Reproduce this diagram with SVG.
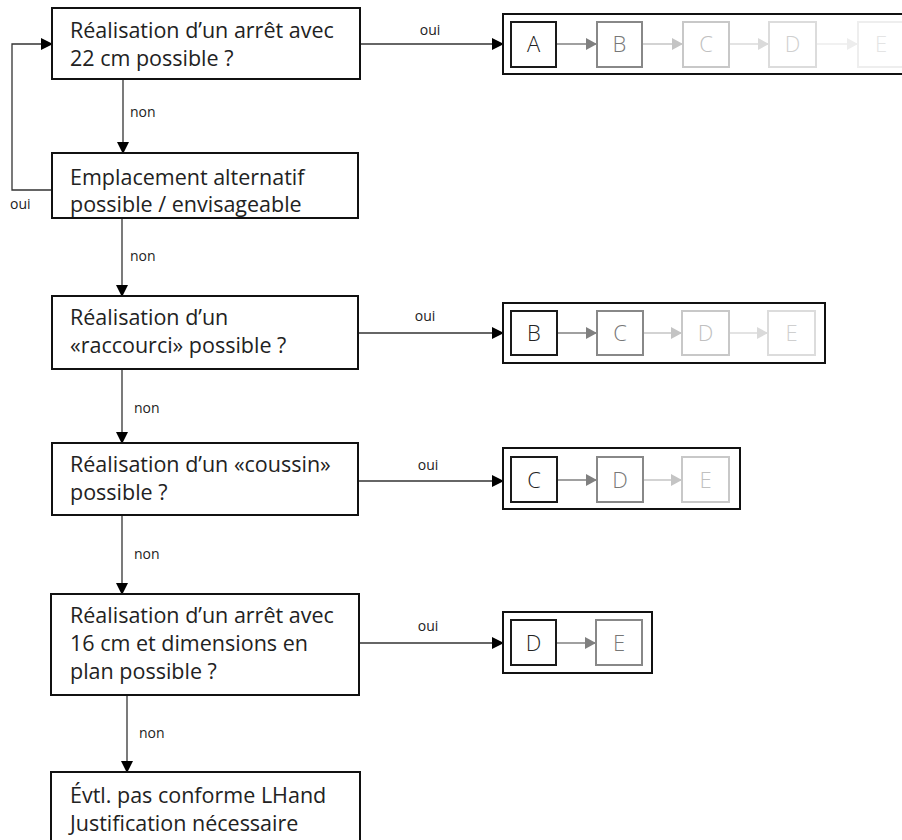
<svg xmlns="http://www.w3.org/2000/svg" width="902" height="840" viewBox="0 0 902 840">
<defs>
<style>
.box{fill:#fff;stroke:#111;stroke-width:2}
.t{font-family:"Open Sans","Noto Sans",sans-serif;font-size:21.5px;fill:#222}
.lbl{font-family:"Open Sans","Noto Sans",sans-serif;font-size:14px;fill:#222}
.ln{fill:none;stroke:#333;stroke-width:1.3}
.cont{fill:#fff;stroke:#111;stroke-width:2}
.s{font-family:"Open Sans","Noto Sans",sans-serif;font-size:22px;font-weight:300;text-anchor:middle}
.c0{fill:#fff;stroke:#1a1a1a;stroke-width:2}
.c1{fill:#fff;stroke:#888;stroke-width:2}
.c2{fill:#fff;stroke:#c8c8c8;stroke-width:2}
.c3{fill:#fff;stroke:#dcdcdc;stroke-width:2}
.c4{fill:#fff;stroke:#eeeeee;stroke-width:2}
.f0{fill:#222}.f1{fill:#777}.f2{fill:#c0c0c0}.f3{fill:#cfcfcf}.f4{fill:#e4e4e4}
.a1{stroke:#808080;stroke-width:1.3}
.a2{stroke:#c4c4c4;stroke-width:1.3}
.a3{stroke:#dadada;stroke-width:1.3}
.a4{stroke:#ededed;stroke-width:1.3}
</style>
<marker id="ah" markerWidth="12" markerHeight="12" refX="11" refY="6" orient="auto" markerUnits="userSpaceOnUse"><path d="M0,0 L12,6 L0,12 Z" fill="#000"/></marker>
<marker id="m1" markerWidth="12" markerHeight="12" refX="11" refY="6" orient="auto" markerUnits="userSpaceOnUse"><path d="M0,0 L11,6 L0,12 Z" fill="#808080"/></marker>
<marker id="m2" markerWidth="12" markerHeight="12" refX="11" refY="6" orient="auto" markerUnits="userSpaceOnUse"><path d="M0,0 L11,6 L0,12 Z" fill="#c4c4c4"/></marker>
<marker id="m3" markerWidth="12" markerHeight="12" refX="11" refY="6" orient="auto" markerUnits="userSpaceOnUse"><path d="M0,0 L11,6 L0,12 Z" fill="#dadada"/></marker>
<marker id="m4" markerWidth="12" markerHeight="12" refX="11" refY="6" orient="auto" markerUnits="userSpaceOnUse"><path d="M0,0 L11,6 L0,12 Z" fill="#ededed"/></marker>
</defs>
<rect width="902" height="840" fill="#fff"/>

<g id="connectors">
<path class="ln" d="M123,79 V153" marker-end="url(#ah)"/>
<text class="lbl" x="130" y="117">non</text>
<path class="ln" d="M122,218 V296" marker-end="url(#ah)"/>
<text class="lbl" x="130" y="261">non</text>
<path class="ln" d="M122,369 V443" marker-end="url(#ah)"/>
<text class="lbl" x="134" y="413">non</text>
<path class="ln" d="M122,515 V594" marker-end="url(#ah)"/>
<text class="lbl" x="134" y="559">non</text>
<path class="ln" d="M127,695 V772" marker-end="url(#ah)"/>
<text class="lbl" x="139" y="738">non</text>
<path class="ln" d="M52,190 H12 V44 H52" marker-end="url(#ah)"/>
<text class="lbl" x="10" y="209">oui</text>
<path class="ln" d="M360,44 H503" marker-end="url(#ah)"/>
<text class="lbl" x="430" y="35" text-anchor="middle">oui</text>
<path class="ln" d="M358,333 H503" marker-end="url(#ah)"/>
<text class="lbl" x="425" y="321" text-anchor="middle">oui</text>
<path class="ln" d="M358,481 H503" marker-end="url(#ah)"/>
<text class="lbl" x="428" y="470" text-anchor="middle">oui</text>
<path class="ln" d="M359,643 H503" marker-end="url(#ah)"/>
<text class="lbl" x="428" y="631" text-anchor="middle">oui</text>
</g>

<g id="q1">
<rect class="box" x="52" y="8" width="308" height="71"/>
<text class="t" x="70" y="38">Réalisation d’un arrêt avec</text>
<text class="t" x="70" y="66">22 cm possible ?</text>
</g>
<g id="q2">
<rect class="box" x="52" y="153" width="306" height="65"/>
<text class="t" x="70" y="185">Emplacement alternatif</text>
<text class="t" x="70" y="212">possible / envisageable</text>
</g>
<g id="q3">
<rect class="box" x="52" y="296" width="306" height="73"/>
<text class="t" x="70" y="325">Réalisation d’un</text>
<text class="t" x="70" y="353">«raccourci» possible ?</text>
</g>
<g id="q4">
<rect class="box" x="52" y="443" width="306" height="72"/>
<text class="t" x="70" y="472">Réalisation d’un «coussin»</text>
<text class="t" x="70" y="500">possible ?</text>
</g>
<g id="q5">
<rect class="box" x="51" y="594" width="308" height="101"/>
<text class="t" x="70" y="623">Réalisation d’un arrêt avec</text>
<text class="t" x="70" y="651">16 cm et dimensions en</text>
<text class="t" x="70" y="679">plan possible ?</text>
</g>
<g id="q6">
<rect class="box" x="51" y="772" width="309" height="80"/>
<text class="t" x="70" y="803">Évtl. pas conforme LHand</text>
<text class="t" x="70" y="831">Justification nécessaire</text>
</g>

<g id="seqA">
<rect class="cont" x="503" y="14" width="420" height="60"/>
<line class="a1" x1="556" y1="44" x2="597" y2="44" marker-end="url(#m1)"/>
<line class="a2" x1="642" y1="44" x2="683" y2="44" marker-end="url(#m2)"/>
<line class="a3" x1="729" y1="44" x2="769" y2="44" marker-end="url(#m3)"/>
<line class="a4" x1="817" y1="44" x2="858" y2="44" marker-end="url(#m4)"/>
<rect class="c0" x="511" y="22" width="45" height="45"/><text class="s f0" x="533.5" y="52">A</text>
<rect class="c1" x="597" y="22" width="45" height="45"/><text class="s f1" x="619.5" y="52">B</text>
<rect class="c2" x="683" y="22" width="46" height="45"/><text class="s f2" x="706" y="52">C</text>
<rect class="c3" x="769" y="22" width="47" height="45"/><text class="s f3" x="792.5" y="52">D</text>
<rect class="c4" x="858" y="22" width="46" height="45"/><text class="s f4" x="881" y="52">E</text>
</g>

<g id="seqB">
<rect class="cont" x="503" y="303" width="322" height="60"/>
<line class="a1" x1="557" y1="333" x2="597" y2="333" marker-end="url(#m1)"/>
<line class="a2" x1="643" y1="333" x2="682" y2="333" marker-end="url(#m2)"/>
<line class="a3" x1="729" y1="333" x2="768" y2="333" marker-end="url(#m3)"/>
<rect class="c0" x="511" y="311" width="46" height="44"/><text class="s f0" x="534" y="341">B</text>
<rect class="c1" x="597" y="311" width="46" height="44"/><text class="s f1" x="620" y="341">C</text>
<rect class="c2" x="682" y="311" width="47" height="44"/><text class="s f2" x="705.5" y="341">D</text>
<rect class="c3" x="768" y="311" width="47" height="44"/><text class="s f3" x="791.5" y="341">E</text>
</g>

<g id="seqC">
<rect class="cont" x="503" y="448" width="237" height="61"/>
<line class="a1" x1="557" y1="480" x2="597" y2="480" marker-end="url(#m1)"/>
<line class="a2" x1="643" y1="480" x2="682" y2="480" marker-end="url(#m2)"/>
<rect class="c0" x="511" y="457" width="46" height="45"/><text class="s f0" x="534" y="488">C</text>
<rect class="c1" x="597" y="457" width="46" height="45"/><text class="s f1" x="620" y="488">D</text>
<rect class="c2" x="682" y="457" width="47" height="45"/><text class="s f2" x="705.5" y="488">E</text>
</g>

<g id="seqD">
<rect class="cont" x="503" y="612" width="149" height="61"/>
<line class="a1" x1="556" y1="643" x2="596" y2="643" marker-end="url(#m1)"/>
<rect class="c0" x="511" y="620" width="45" height="45"/><text class="s f0" x="533.5" y="651">D</text>
<rect class="c1" x="596" y="620" width="46" height="45"/><text class="s f1" x="619" y="651">E</text>
</g>
</svg>
